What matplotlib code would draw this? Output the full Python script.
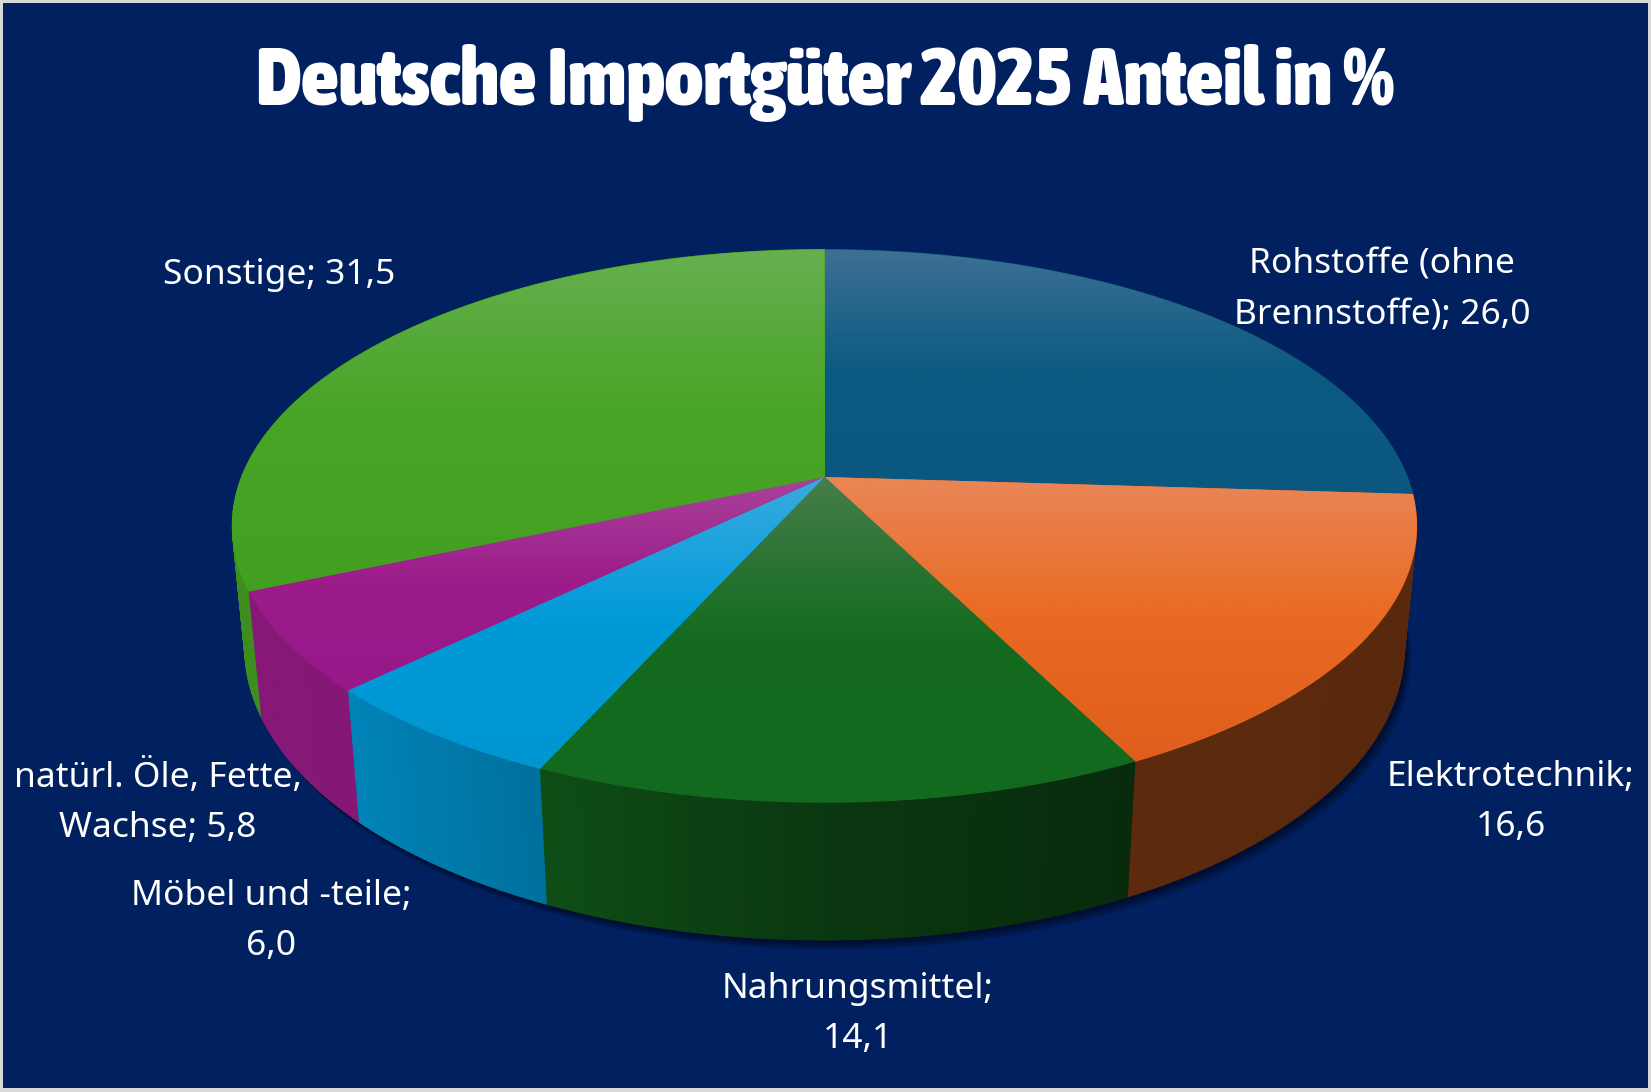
import textwrap
import numpy as np
import matplotlib
matplotlib.use("Agg")
import matplotlib.pyplot as plt
from matplotlib.patches import Polygon, Rectangle
from matplotlib.collections import PolyCollection
from matplotlib.colors import to_rgb
from matplotlib import font_manager as fm

# ---------------- data ----------------
categories = ["Rohstoffe (ohne Brennstoffe)", "Elektrotechnik", "Nahrungsmittel",
              "Möbel und -teile", "natürl. Öle, Fette, Wachse", "Sonstige"]
values = [26.0, 16.6, 14.1, 6.0, 5.8, 31.5]
title_text = "Deutsche Importgüter 2025 Anteil in %"

# ---------------- styles ----------------
top_light = ["#3e7095", "#e98657", "#467e4c", "#3aabe1", "#a9439b", "#66b050"]
top_base = ["#0b5a80", "#e96a22", "#146b1f", "#009ad8", "#9c1c8a", "#48a424"]
top_bottom = ["#0a5880", "#e05e1c", "#116a1e", "#0096d2", "#98188a", "#42a020"]
label_pos = [(1382, 290), (1511, 802), (858, 1014), (271, 921), (158, 802), (279, 275)]
wrap_width = [18, 15, 15, 17, 19, 20]
navy = "#002060"

W, Hpx = 1651, 1092
fig = plt.figure(figsize=(W / 100, Hpx / 100), dpi=100, facecolor="#d9d9d9")
ax = fig.add_axes([0, 0, 1, 1])
ax.set_xlim(0, W)
ax.set_ylim(Hpx, 0)
ax.set_axis_off()
ax.add_patch(Rectangle((3, 3), W - 6, Hpx - 7, facecolor=navy, edgecolor="none", zorder=0))

# ---------------- perspective projection ----------------
CX, CY = 824.5, 477.0
S_PHI = 0.452
C_PHI = np.sqrt(1 - S_PHI ** 2)
DIST = 5.04
FX, FY = 2937.0, 2984.0
THICK = 0.233


def proj(X, Y, Z):
    X = np.asarray(X, float)
    Y = np.asarray(Y, float)
    Z = np.asarray(Z, float) + 0 * X
    zc = DIST + Y * C_PHI - Z * S_PHI
    u = FX * X / zc
    w = FY * (Y * S_PHI + Z * C_PHI) / zc
    return CX + u, CY - w


vals = np.array(values, float)
bounds = np.concatenate([[0], np.cumsum(vals) / vals.sum()]) * 2 * np.pi


def wall_factor(X):
    return np.interp(X, [-1, -0.7, -0.35, 0, 0.45, 1],
                     [0.87, 0.85, 0.70, 0.52, 0.40, 0.38])


# shadow under the pie
tt = np.linspace(0, 2 * np.pi, 400)
bx, by = proj(np.sin(tt), np.cos(tt), -THICK)
for k in range(8):
    ax.add_patch(Polygon(np.column_stack([bx + 2 + k * 0.8, by + 3 + k * 1.0]),
                         closed=True, facecolor="black", edgecolor="none",
                         alpha=0.07, zorder=1))

# side walls
quads, cols, depth = [], [], []
for i in range(len(vals)):
    a0, a1 = bounds[i], bounds[i + 1]
    n = max(4, int(400 * (a1 - a0) / (2 * np.pi)))
    t = np.linspace(a0, a1, n + 1)
    X, Y = np.sin(t), np.cos(t)
    tx, ty = proj(X, Y, 0)
    lx, ly = proj(X, Y, -THICK)
    base = np.array(to_rgb(top_base[i]))
    for k in range(n):
        q = [(tx[k], ty[k]), (tx[k + 1], ty[k + 1]), (lx[k + 1], ly[k + 1]), (lx[k], ly[k])]
        xm = 0.5 * (X[k] + X[k + 1])
        ym = 0.5 * (Y[k] + Y[k + 1])
        quads.append(q)
        cols.append(np.clip(base * wall_factor(xm), 0, 1))
        depth.append(ym)
order = np.argsort(depth)[::-1]
pc = PolyCollection([quads[j] for j in order], facecolors=[cols[j] for j in order],
                    edgecolors=[cols[j] for j in order], linewidths=0.8, zorder=2)
ax.add_collection(pc)

# top faces with vertical gradient
for i in range(len(vals)):
    a0, a1 = bounds[i], bounds[i + 1]
    n = max(8, int(600 * (a1 - a0) / (2 * np.pi)))
    t = np.linspace(a0, a1, n + 1)
    px, py = proj(np.sin(t), np.cos(t), 0)
    ox, oy = proj(0.0, 0.0, 0.0)
    xs = np.concatenate([[float(ox)], px])
    ys = np.concatenate([[float(oy)], py])
    verts = np.column_stack([xs, ys])
    ax.add_patch(Polygon(verts, closed=True, facecolor=top_base[i],
                         edgecolor=top_base[i], linewidth=0.8, zorder=3))
    clip = Polygon(verts, closed=True, facecolor="none", edgecolor="none",
                   transform=ax.transData)
    ax.add_patch(clip)
    y0, y1 = ys.min(), ys.max()
    fr = np.linspace(0, 1, 256)[:, None]
    c_l = np.array(to_rgb(top_light[i]))
    c_b = np.array(to_rgb(top_base[i]))
    c_d = np.array(to_rgb(top_bottom[i]))
    m1 = np.clip(fr / 0.5, 0, 1)
    m2 = np.clip((fr - 0.5) / 0.5, 0, 1)
    grad = np.where(fr < 0.5, c_l * (1 - m1) + c_b * m1, c_b * (1 - m2) + c_d * m2)
    img = ax.imshow(grad[:, None, :], extent=(xs.min(), xs.max(), y1, y0),
                    origin="upper", aspect="auto", interpolation="bilinear", zorder=4)
    img.set_clip_path(clip)

ax.set_xlim(0, W)
ax.set_ylim(Hpx, 0)


# ---------------- fonts ----------------
def wnum(f):
    try:
        return int(f.weight)
    except (TypeError, ValueError):
        return {"bold": 700, "heavy": 800, "black": 900, "extra bold": 800}.get(str(f.weight), 400)


def stretch_of(f):
    nm = f.name.lower()
    st = str(f.stretch)
    if st in ("semi-condensed", "condensed", "extra-condensed"):
        return st
    if "semicondensed" in nm or "semi condensed" in nm:
        return "semi-condensed"
    if "condensed" in nm or "narrow" in nm:
        return "condensed"
    return None


def pick_title_font():
    best = None
    pref = {"semi-condensed": 0, "condensed": 40, "extra-condensed": 80}
    for f in fm.fontManager.ttflist:
        st = stretch_of(f)
        if st is None or f.style != "normal":
            continue
        w = wnum(f)
        if w < 700:
            continue
        score = pref[st] + abs(w - 900) / 10
        if best is None or score < best[0]:
            best = (score, f.fname)
    return best[1] if best else None


tf = pick_title_font()
if tf:
    title_fp = fm.FontProperties(fname=tf, size=50)
else:
    title_fp = fm.FontProperties(family=["Noto Sans", "DejaVu Sans"], weight="bold", size=50)

label_fp = fm.FontProperties(family=["Noto Sans", "DejaVu Sans"], size=25.5)

# title, fitted to width (slightly narrower to keep the letter height close)
ttl = ax.text(825, 105, title_text, fontproperties=title_fp, color="white",
              ha="center", va="baseline", zorder=10)
r = fig.canvas.get_renderer()
bb = ttl.get_window_extent(r)
ttl.set_fontsize(min(72, 50 * 1140 / bb.width))

# labels
for i, cat in enumerate(categories):
    val = f"{values[i]:.1f}".replace(".", ",")
    txt = textwrap.fill(f"{cat}; {val}", width=wrap_width[i], break_on_hyphens=False)
    ax.text(label_pos[i][0], label_pos[i][1], txt, fontproperties=label_fp,
            color="white", ha="center", va="center", multialignment="center",
            linespacing=1.62, zorder=10)

fig.savefig("out.png", dpi=100, facecolor=fig.get_facecolor())
